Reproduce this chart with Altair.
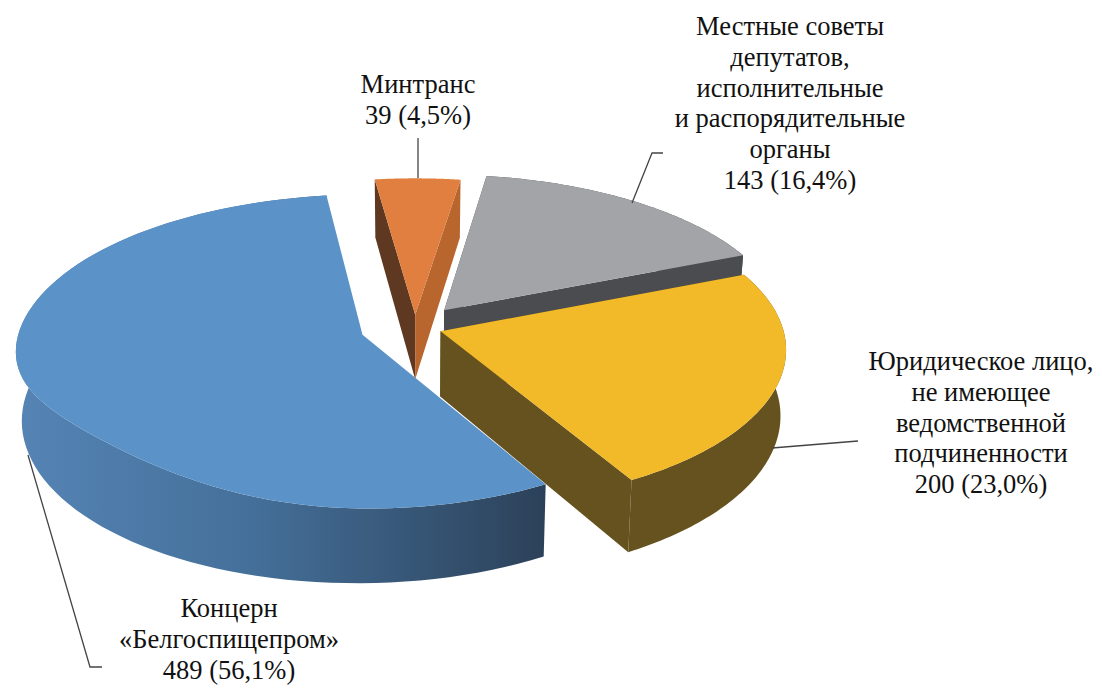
import math
import altair as alt
import pandas as pd

# --- data ---
categories = ["Концерн «Белгоспищепром»", "Минтранс", "Местные советы", "Юридическое лицо"]
values = [489, 39, 143, 200]
label_texts = [
    "Концерн\n«Белгоспищепром»\n489 (56,1%)",
    "Минтранс\n39 (4,5%)",
    "Местные советы\nдепутатов,\nисполнительные\nи распорядительные\nорганы\n143 (16,4%)",
    "Юридическое лицо,\nне имеющее\nведомственной\nподчиненности\n200 (23,0%)",
]
label_x = [229, 418, 790, 981]
label_top = [596, 72, 14, 349]
explode = [0.155, 0.08, 0.14, 0.085]
top_colors = ["#5b93c9", "#e07f3f", "#a3a4a7", "#f2b928"]
side_a = ["#2c4159", "#5e3820", "#4b4c4f", "#66521f"]
side_b = ["#2c4159", "#b9652e", "#4b4c4f", "#66521f"]
leaders = [
    [(28, 455), (90, 667), (102, 667)],
    [(418, 138), (418, 178)],
    [(632, 203), (652, 153), (663, 153)],
    [(772, 448), (858, 441)],
]

# --- view of the disc ---
CX, CY, A, B, P, H, SHRINK = 413, 327, 342, 154, 0.11, 65, 0.985
START_DEG = 352.4  # clockwise start of the orange slice, after the blue one
nudge = [0, 2, 2, 0]
total = sum(values)


def top_pt(u, v, dx=0, lift=0):
    k = 1 / (1 - P * v)
    return (CX + dx + A * u * k, CY + B * v * k - lift)


def low_pt(u, v, dx=0):
    k = 1 / (1 - P * v)
    return (CX + dx + A * u * k * SHRINK, CY + B * v * k + H * k)


def disc(ang, off):
    return (off[0] + math.sin(ang), off[1] - math.cos(ang))


def rim_lift(i, ang):
    # the blue face's front-left edge sits higher than a true ellipse in the reference
    if i != 0:
        return 0
    deg = math.degrees(ang) % 360
    return 18 * math.exp(-(((deg - 225) / 28) ** 2))


def poly(points, fill):
    ring = [[round(x, 2), round(y, 2)] for x, y in points]
    ring.append(ring[0])
    feature = {"type": "Feature", "properties": {}, "geometry": {"type": "Polygon", "coordinates": [ring]}}
    return alt.Chart(alt.Data(values=[feature])).mark_geoshape(fill=fill, strokeWidth=0)


wall_gradient = alt.Gradient(
    gradient="linear", x1=0, x2=1, y1=0, y2=0,
    stops=[
        alt.GradientStop(color="#5584b5", offset=0),
        alt.GradientStop(color="#446f99", offset=0.45),
        alt.GradientStop(color="#2c4159", offset=1),
    ],
)

angles = {}
a = math.radians(START_DEG)
for i in [1, 2, 3, 0]:
    b = a + 2 * math.pi * values[i] / total
    angles[i] = (a, b)
    a = b

layers = []
for i in [2, 1, 3, 0]:
    a0, a1 = angles[i]
    mid = (a0 + a1) / 2
    off = (explode[i] * math.sin(mid), -explode[i] * math.cos(mid))
    d = nudge[i]
    n = 90
    angs = [a0 + (a1 - a0) * j / n for j in range(n + 1)]
    rim = [disc(t, off) for t in angs]
    top_rim = [top_pt(*p, d, rim_lift(i, t)) for p, t in zip(rim, angs)]
    low_rim = [low_pt(*p, d) for p in rim]
    apex = off
    # outer wall first, radial side walls over it
    wall_fill = wall_gradient if i == 0 else side_b[i]
    if i != 1:
        layers.append(poly(top_rim + low_rim[::-1], wall_fill))
    if i != 0:
        layers.append(poly([top_pt(*apex, d), top_rim[0], low_rim[0], low_pt(*apex, d)], side_a[i]))
        layers.append(poly([top_pt(*apex, d), top_rim[-1], low_rim[-1], low_pt(*apex, d)], side_b[i]))
    # top face
    layers.append(poly([top_pt(*apex, d)] + top_rim, top_colors[i]))

for pts in leaders:
    df = pd.DataFrame({"lon": [p[0] for p in pts], "lat": [p[1] for p in pts], "o": list(range(len(pts)))})
    layers.append(
        alt.Chart(df).mark_line(color="#444444", strokeWidth=1.3).encode(
            longitude="lon:Q", latitude="lat:Q", order="o:Q"
        )
    )

labels = pd.DataFrame({"t": label_texts, "lon": label_x, "lat": label_top})
layers.append(
    alt.Chart(labels).mark_text(
        font="Liberation Serif", fontSize=26.5, color="#111111", lineBreak="\n",
        lineHeight=30.8, align="center", baseline="top",
    ).encode(longitude="lon:Q", latitude="lat:Q", text="t:N")
)

chart = (
    alt.layer(*layers)
    .project(type="identity", scale=1, translate=[-8, -8])
    .properties(width=1086, height=677, padding=0, background="white")
    .configure_view(stroke=None)
)
chart.save("out.html", embed_options={"renderer": "svg", "actions": False})
